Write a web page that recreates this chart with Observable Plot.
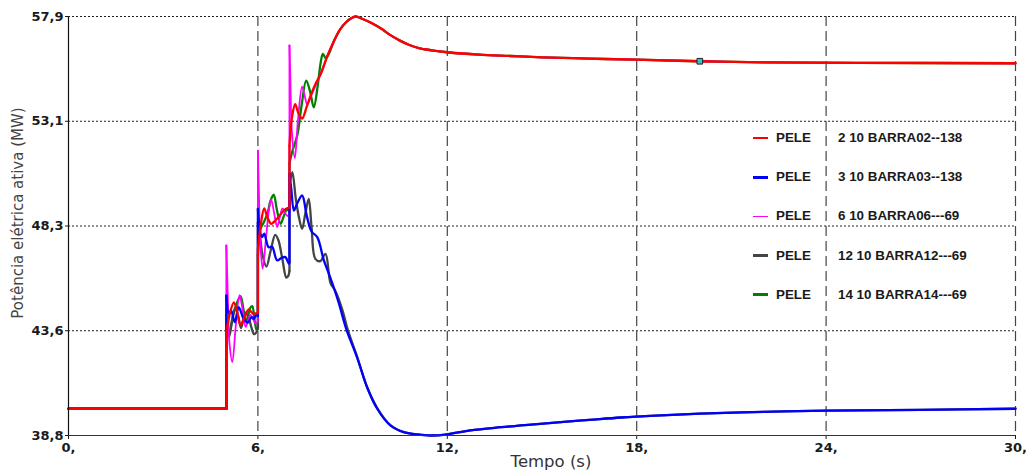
<!DOCTYPE html>
<html>
<head>
<meta charset="utf-8">
<script src="https://cdn.jsdelivr.net/npm/d3@7"></script>
<script src="https://cdn.jsdelivr.net/npm/@observablehq/plot@0.6"></script>
<style>
  body { margin: 0; background: #fff; }
  #chart { position: relative; width: 1026px; height: 476px; }
  .lg-row { position: absolute; height: 16px; font-family: "Liberation Sans", Arial, sans-serif;
            font-weight: bold; font-size: 13.4px; color: #1a1a1a; line-height: 16px; white-space: pre; }
  .lg-swatch { position: absolute; left: 0; width: 15px; }
  .lg-code { position: absolute; left: 23px; }
  .lg-name { position: absolute; left: 85px; }
</style>
</head>
<body>
<div id="chart"></div>
<script>
// Active electrical power (MW) of the PELE machines after the load steps at 5, 6 and 7 s.
// Each series is [time (s), power (MW)]; repeated times are the vertical steps.

const barra02 = [[0,40.02],[5,40.02],[5,43.5],[5.1,44.3],[5.24,44.87],[5.35,44.4],[5.45,43.85],[5.58,44.2],[5.71,44.55],[5.85,44.35],
  [6,44.4],[6,47.3],[6.1,48.5],[6.2,49.15],[6.3,48.75],[6.42,48.45],[6.55,48.6],[6.7,48.85],[6.85,49.1],
  [7,49.2],[7,52.0],[7.08,53.3],[7.18,53.9],[7.28,53.5],[7.4,53.25],[7.55,53.8],[7.7,54.4],[7.85,54.9],
  [8,55.3],[8.2,56.1],[8.4,56.75],[8.6,57.3],[8.8,57.65],[9,57.85],[9.1,57.9],[9.3,57.8],[9.6,57.6],[9.9,57.35],
  [10.2,57.05],[10.5,56.8],[10.8,56.6],[11.1,56.46],[11.5,56.36],[12,56.27],[13,56.16],[14,56.1],[15,56.04],
  [16.5,55.98],[18,55.93],[20,55.86],[22,55.81],[25,55.79],[30,55.77]];

const barra03 = [[0,40.02],[5,40.02],[5,45.18],[5.08,44.35],[5.15,44.5],[5.27,43.97],[5.39,44.65],[5.55,44.12],[5.68,43.95],
  [5.8,44.2],[5.87,44.12],[5.95,44.3],[6,44.25],[6,49.13],[6.05,48.3],[6.13,47.84],[6.2,48.0],[6.34,47.38],[6.45,47.4],
  [6.61,46.78],[6.75,46.9],[6.87,46.93],[6.98,46.63],[7,46.7],[7,50.73],[7.06,50.0],[7.14,49.05],[7.22,49.3],[7.4,49.74],
  [7.55,48.8],[7.7,48.1],[7.88,47.84],[8.09,46.78],[8.25,46.17],[8.4,45.56],[8.56,44.85],[8.8,43.65],[9.14,42.37],
  [9.46,41.0],[9.78,40.02],[10.2,39.26],[10.62,38.95],[11.05,38.85],[11.47,38.8],[11.94,38.84],[12.3,38.93],[12.73,39.03],
  [13.5,39.15],[14.46,39.27],[15.5,39.4],[16.5,39.51],[17.5,39.62],[18.6,39.71],[20,39.8],[22,39.88],[24,39.93],
  [27,39.97],[30,40.02]];

const barra06 = [[0,40.02],[5,40.02],[5,47.46],[5.04,45.5],[5.1,43.0],[5.19,42.15],[5.3,43.8],[5.42,45.2],[5.52,44.5],
  [5.61,43.75],[5.68,44.0],[5.76,44.3],[5.85,44.1],[5.93,43.9],[6,44.0],[6,51.79],[6.03,50.0],[6.08,47.5],[6.15,46.4],
  [6.25,47.7],[6.35,49.1],[6.42,49.55],[6.52,48.9],[6.61,48.3],[6.7,48.8],[6.78,49.15],[6.88,48.9],[6.95,48.8],[7,48.9],
  [7,56.58],[7.03,55.0],[7.07,52.8],[7.17,51.45],[7.27,53.2],[7.4,54.7],[7.48,54.3],[7.56,53.9],[7.66,54.2],[7.78,54.6],
  [7.9,55.0],[8,55.35],[8.2,56.1],[8.4,56.75],[8.6,57.3],[8.8,57.65],[9,57.85],[9.1,57.9],[9.3,57.8],[9.6,57.6],
  [9.9,57.35],[10.2,57.05],[10.5,56.8],[10.8,56.6],[11.1,56.46],[11.5,56.36],[12,56.27],[13,56.16],[14,56.1],
  [15,56.04],[16.5,55.98],[18,55.93],[20,55.86],[22,55.81],[25,55.79],[30,55.77]];

const barra12 = [[0,40.02],[5,40.02],[5,44.3],[5.04,43.6],[5.09,43.3],[5.18,44.0],[5.28,44.6],[5.38,44.2],[5.47,43.7],
  [5.6,44.4],[5.7,44.2],[5.8,43.7],[5.88,43.42],[5.95,43.5],[6,43.7],[6,48.5],[6.06,48.0],[6.15,47.0],[6.27,46.5],
  [6.4,47.2],[6.55,47.95],[6.65,47.7],[6.78,46.8],[6.9,46.0],[6.97,46.1],[7,46.3],[7,50.2],[7.09,50.8],[7.2,49.6],
  [7.3,48.75],[7.4,48.22],[7.5,48.9],[7.61,49.59],[7.7,48.3],[7.82,46.85],[7.98,46.75],[8.14,47.08],[8.3,45.75],
  [8.45,45.4],[8.67,44.55],[8.85,43.6],[9.14,42.4],[9.46,41.0],[9.78,40.05],[10.2,39.26],[10.62,38.95],[11.05,38.85],
  [11.47,38.8],[11.94,38.84],[12.3,38.93],[12.73,39.03],[13.5,39.15],[14.46,39.27],[15.5,39.4],[16.5,39.51],
  [17.5,39.62],[18.6,39.71],[20,39.8],[22,39.88],[24,39.93],[27,39.97],[30,40.02]];

const barra14 = [[0,40.02],[5,40.02],[5,43.8],[5.08,43.4],[5.2,44.2],[5.3,44.7],[5.45,45.15],[5.55,44.5],[5.65,44.0],
  [5.75,44.6],[5.82,44.7],[5.9,44.0],[5.96,43.6],[6,43.7],[6,47.0],[6.08,48.2],[6.18,48.5],[6.3,48.9],[6.4,49.5],
  [6.5,49.78],[6.6,49.1],[6.72,48.45],[6.82,48.8],[6.92,49.1],[7,49.0],[7,51.2],[7.1,51.8],[7.25,52.5],[7.38,53.8],
  [7.53,54.98],[7.65,54.5],[7.77,53.76],[7.9,54.8],[8,55.9],[8.06,56.2],[8.15,56.0],[8.25,56.2],[8.4,56.75],
  [8.6,57.3],[8.8,57.65],[9,57.85],[9.1,57.9],[9.3,57.8],[9.6,57.6],[9.9,57.35],[10.2,57.05],[10.5,56.8],[10.8,56.6],
  [11.1,56.46],[11.5,56.36],[12,56.27],[13,56.16],[14,56.1],[15,56.04],[16.5,55.98],[18,55.93],[20,55.86],
  [22,55.81],[25,55.79],[30,55.77]];

// Legend entries (top to bottom)
const seriesData   = [barra02, barra03, barra06, barra12, barra14];
const seriesCodes  = ["PELE", "PELE", "PELE", "PELE", "PELE"];
const seriesNames  = ["2 10 BARRA02--138", "3 10 BARRA03--138", "6 10 BARRA06---69", "12 10 BARRA12---69", "14 10 BARRA14---69"];
const seriesColors = ["#ff0000", "#0000ff", "#ff00ff", "#444444", "#008000"];
const seriesWidths = [2.3, 2.3, 1.8, 2.3, 2.3];
const swatchWidths = [2, 3, 1.5, 3, 3];
// bottom-to-top drawing order
const drawOrder = [4, 3, 2, 1, 0];

// Cursor marker on the red curve
const cursorPoint = [[20, 55.86]];

// Axes
const xTicks = [0, 6, 12, 18, 24, 30];
const yDomain = [38.8, 57.9];
const yTickLabels = ["38,8", "43,6", "48,3", "53,1", "57,9"];
const yTicks = yTickLabels.map((_, i) => yDomain[0] + i * (yDomain[1] - yDomain[0]) / (yTickLabels.length - 1));
const xTitle = "Tempo (s)";
const yTitle = "Potência elétrica ativa (MW)";

// Split a series at its vertical steps: smooth pieces between steps, straight risers at the steps.
function pieces(data) {
  let seg = 0;
  return data.map((d, i) => {
    if (i > 0 && d[0] === data[i - 1][0]) seg++;
    return {t: d[0], p: d[1], seg};
  });
}
function risers(data) {
  return data.slice(1).map((d, i) => ({t: d[0], p1: data[i][1], p2: d[1], step: d[0] === data[i][0]}))
    .filter(d => d.step);
}

const lineMarks = drawOrder.flatMap(i => [
  Plot.line(pieces(seriesData[i]), {
    x: "t", y: "p", z: "seg", stroke: seriesColors[i], strokeWidth: seriesWidths[i],
    strokeLinejoin: "round", strokeLinecap: "round", curve: "catmull-rom"
  }),
  Plot.link(risers(seriesData[i]), {
    x1: "t", x2: "t", y1: "p1", y2: "p2", stroke: seriesColors[i], strokeWidth: seriesWidths[i], strokeLinecap: "round"
  })
]);

const chart = Plot.plot({
  width: 1026,
  height: 476,
  marginLeft: 68,
  marginRight: 11,
  marginTop: 16,
  marginBottom: 41,
  style: {fontFamily: "DejaVu Sans, sans-serif", fontSize: "13px", fontWeight: "bold", color: "#1a1a1a", background: "#fff"},
  x: {domain: [0, 30], ticks: xTicks, tickFormat: d => `${d},`, tickSize: 4, tickPadding: 3, label: null},
  y: {domain: yDomain, ticks: yTicks, tickFormat: d => yTickLabels[yTicks.indexOf(d)], tickSize: 3, tickPadding: 2, label: null},
  marks: [
    Plot.ruleY(yTicks.slice(1), {stroke: "#222", strokeDasharray: "2,2", strokeWidth: 1}),
    Plot.ruleX(xTicks.slice(1), {stroke: "#444", strokeDasharray: "10,5", strokeWidth: 1.2}),
    ...lineMarks,
    Plot.ruleX([0], {stroke: "#111", strokeWidth: 1.2}),
    Plot.ruleY([yDomain[0]], {stroke: "#333", strokeWidth: 1.2}),
    Plot.dot(cursorPoint, {x: d => d[0], y: d => d[1], symbol: "square", r: 3.2, fill: "#30c4cc", stroke: "#222", strokeWidth: 1}),
    Plot.text([yTitle], {text: d => d, frameAnchor: "left", textAnchor: "middle", rotate: -90, dx: -50, dy: -13,
      fontSize: 15, fontWeight: "normal", fill: "#444"}),
    Plot.text([xTitle], {text: d => d, frameAnchor: "bottom", textAnchor: "middle", dx: 9, dy: 31,
      fontSize: 16.5, fontWeight: "normal", fill: "#333"})
  ]
});

const container = document.getElementById("chart");
container.appendChild(chart);

// Legend drawn inside the plotting area
seriesNames.forEach((name, i) => {
  const row = document.createElement("div");
  row.className = "lg-row";
  row.style.left = "753px";
  row.style.top = (130 + i * 39.2) + "px";
  const sw = document.createElement("div");
  sw.className = "lg-swatch";
  sw.style.background = seriesColors[i];
  sw.style.height = swatchWidths[i] + "px";
  sw.style.top = (8 - swatchWidths[i] / 2) + "px";
  const code = document.createElement("span");
  code.className = "lg-code";
  code.textContent = seriesCodes[i];
  const nm = document.createElement("span");
  nm.className = "lg-name";
  nm.textContent = name;
  row.append(sw, code, nm);
  container.appendChild(row);
});
</script>
</body>
</html>
